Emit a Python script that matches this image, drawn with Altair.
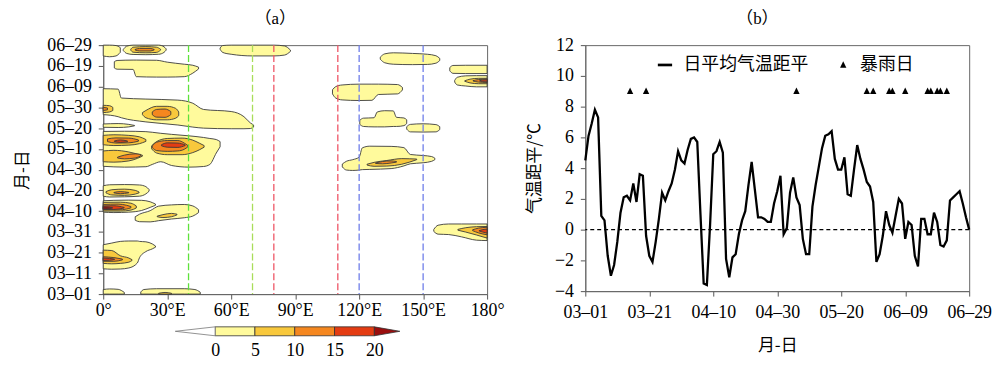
import json
import altair as alt
import pandas as pd

# ---------------- panel (a): Hovmoller contour data ----------------
A_LON_TICKS = [0, 30, 60, 90, 120, 150, 180]
A_LON_LABELS = ["0°", "30°E", "60°E", "90°E", "120°E", "150°E", "180°"]
A_DAY_TICKS = list(range(0, 121, 10))
A_DAY_LABELS = ["03–01", "03–11", "03–21", "03–31", "04–10", "04–20", "04–30",
                "05–10", "05–20", "05–30", "06–09", "06–19", "06–29"]

# contour regions: blob -> [(lon, day_low, day_high), ...]
LEVEL_0 = {
    "A": [(9.4, 117.4, 117.9), (11, 116.0, 119.5), (14, 115.5, 120), (20, 115.4, 120), (26, 115.6, 120), (28.5, 116.5, 119.2), (29.5, 117.6, 118.2)],
    "B": [(0, 114.8, 120), (3, 114.4, 120), (6, 114.8, 119.8), (8, 116.5, 118.8)],
    "C": [(5.2, 109.0, 112.0), (6.5, 108.4, 112.6), (14, 108.3, 112.8), (15.5, 104.8, 112.8), (25, 104.6, 112.7), (30, 104.6, 111.8), (38, 104.8, 110.8), (42, 106.5, 110.3), (44.7, 108.5, 109.4)],
    "D": [(54.8, 118.0, 118.6), (56, 116.5, 119.8), (60, 115.6, 120), (70, 114.8, 120), (80, 114.8, 120), (85, 115.2, 119.6), (87.8, 117.0, 117.6)],
    "E": [(129.9, 113.2, 114.2), (132, 111.5, 115.8), (136, 110.8, 116.3), (145, 110.6, 116.0), (152, 110.7, 115.6), (156, 111.3, 114.9), (157.8, 112.6, 113.6)],
    "F": [(162.5, 107.6, 109.2), (164, 106.4, 110.2), (170, 106.3, 110.3), (180, 106.3, 110.3)],
    "F2": [(164.8, 102.2, 103.0), (166, 100.8, 104.5), (170, 100.3, 105.2), (175, 99.9, 105.3), (180, 99.9, 105.3)],
    "G": [(107.5, 96.5, 98.5), (109, 94.5, 100.0), (112, 93.6, 100.8), (120, 93.3, 101.2), (126, 93.4, 101.2), (129, 96.2, 101.2), (138, 96.5, 101.0), (140.3, 98.4, 99.6)],
    "H": [(120.3, 81.8, 83.8), (122, 80.8, 84.8), (127, 80.6, 85.0), (128.5, 80.6, 87.8), (132, 80.6, 88.4), (136, 80.8, 88.3), (137.5, 80.8, 85.2), (141, 81.2, 84.9), (142.3, 82.2, 84.0)],
    "I": [(142.3, 79.5, 80.7), (144, 78.2, 81.8), (150, 78.1, 82.1), (156, 78.2, 81.7), (157.8, 79.3, 80.7)],
    "J": [(112.1, 61.3, 62.7), (114, 59.8, 64.0), (117, 59.6, 64.8), (120, 59.8, 66.0), (121.5, 60.0, 70.5), (125, 60.1, 71.3), (135, 60.5, 71.2), (141, 61.8, 70.6), (144, 62.8, 67.3), (150, 63.3, 66.8), (154, 64.0, 66.3), (155.5, 64.8, 65.5)],
    "K": [(155, 30.2, 31.2), (157, 28.9, 33.2), (162, 28.7, 33.8), (168, 27.6, 33.8), (175, 26.0, 33.8), (180, 25.8, 33.8)],
    "L": [(0, 47.2, 52.2), (3, 46.8, 52.7), (10, 46.9, 52.8), (17, 47.2, 52.6), (20, 48.3, 51.8), (21.5, 49.6, 50.4)],
    "M": [(0, 39.5, 45.0), (5, 39.3, 45.2), (12, 39.5, 45.3), (18, 40.3, 45.2), (22, 41.8, 44.5), (24.5, 42.8, 43.4)],
    "N": [(15, 35.6, 37.3), (17, 34.9, 38.5), (22, 34.8, 40.2), (26, 35.4, 42.4), (32, 36.2, 43.0), (38, 36.8, 43.2), (42, 37.6, 42.5), (44.7, 39.3, 40.7)],
    "O": [(0, 12.2, 23.8), (4, 12.0, 24.6), (8, 12.1, 25.4), (12, 12.6, 25.6), (16, 15.0, 25.6), (17, 17.5, 25.4), (20, 20.5, 25.2), (23, 21.8, 24.2), (24.5, 22.6, 23.2)],
    "P1": [(0, 0, 2.2), (3, 0, 2.5), (7, 0, 2.3), (9.9, 0, 0.8)],
    "P2": [(17.6, 0, 1.0), (19, 0, 2.2), (25, 0, 2.6), (38, 0, 2.6), (43, 0, 2.2), (45.5, 0, 0.9)],
    "Q": [(0, 86.5, 99.0), (7, 85.5, 98.8), (8.5, 85.0, 94.5), (20, 83.0, 94.0), (35, 81.5, 93.5), (42, 80.5, 92.0), (47, 80.0, 89.0), (60, 79.7, 88.0), (66, 79.7, 85.5), (69, 79.8, 82.5), (70.5, 80.5, 81.5)],
    "S": [(0, 80.4, 82.0), (7, 80.3, 82.2), (12, 80.6, 81.8), (14.7, 81.1, 81.3)],
    "R": [(0, 61.6, 78.4), (10, 61.2, 78.5), (20, 61.4, 78.3), (23, 62.5, 78.0), (27, 63.8, 77.5), (32, 62.0, 77.0), (40, 61.2, 76.3), (47, 61.5, 75.5), (50, 62.5, 75.0), (53, 68.0, 74.5), (54.8, 71.0, 73.5)],
}
LEVEL_5 = {
    "A": [(12.9, 117.6, 118.0), (14, 116.6, 119.0), (20, 116.3, 119.3), (25, 116.5, 119.0), (26.9, 117.6, 118.0)],
    "F2": [(169.5, 102.6, 102.8), (172, 101.8, 103.6), (176, 101.4, 104.0), (180, 101.4, 104.0)],
    "J": [(123.7, 62.2, 62.6), (127, 61.6, 63.5), (133, 61.7, 64.4), (140, 62.6, 65.3), (147, 64.8, 65.1)],
    "K": [(166.3, 30.8, 31.2), (170, 29.9, 32.0), (175, 28.5, 32.5), (180, 27.0, 32.6)],
    "L": [(1.3, 48.8, 49.4), (4, 47.8, 50.3), (10, 47.6, 50.6), (15, 48.2, 50.0), (16.8, 48.8, 49.2)],
    "M": [(0, 40.0, 44.2), (8, 40.0, 44.3), (13, 40.5, 43.8), (15.5, 41.5, 42.5)],
    "N": [(25.3, 37.3, 37.6), (28, 36.9, 38.3), (32, 37.3, 38.9), (34.6, 38.2, 38.5)],
    "O": [(0, 14.8, 21.2), (4, 14.6, 21.0), (8, 14.8, 18.5), (12, 15.4, 17.4), (13.5, 16.2, 16.6)],
    "P2": [(26, 0, 0.4), (29, 0, 0.8), (32, 0, 0.4)],
    "Q1": [(0, 87.5, 91.0), (3, 87.8, 90.8), (4.5, 88.5, 90.0)],
    "Q2": [(18.4, 86.5, 87.5), (20, 85.0, 88.5), (25, 84.0, 90.5), (30, 84.0, 90.5), (34, 84.8, 89.5), (35.4, 86.0, 87.8)],
    "R1": [(0, 72.0, 76.5), (5, 71.6, 76.8), (12, 71.8, 76.5), (17, 72.5, 75.8), (20, 73.6, 74.5)],
    "R2": [(22.7, 70.0, 71.5), (25, 68.0, 73.5), (30, 67.2, 75.0), (37, 67.2, 75.2), (42, 68.2, 74.2), (45, 69.5, 72.8), (47.3, 70.8, 71.6)],
    "R3": [(0, 63.8, 69.0), (5, 63.6, 69.3), (12, 64.2, 68.5), (16, 65.4, 67.5), (18.4, 66.5, 66.9)],
}
LEVEL_10 = {
    "A": [(14.9, 117.7, 117.9), (17, 117.2, 118.4), (22, 117.2, 118.4), (23.9, 117.7, 117.9)],
    "F2": [(173.4, 102.7, 102.9), (176, 102.2, 103.4), (180, 102.0, 103.6)],
    "J": [(127.7, 63.0, 63.2), (131, 62.8, 63.9), (135, 63.2, 64.2), (137.5, 63.6, 63.9)],
    "K": [(173.2, 30.6, 31.0), (176, 29.5, 31.8), (180, 28.6, 32.2)],
    "L": [(5, 48.8, 49.0), (8, 48.4, 49.4), (12, 48.8, 49.0)],
    "M": [(0, 40.6, 43.2), (7, 40.6, 43.4), (11, 41.0, 42.8), (13, 41.6, 42.2)],
    "O": [(0, 15.8, 18.0), (5, 15.8, 17.6), (9, 16.5, 16.9)],
    "Q1": [(0, 88.5, 90.0), (2, 88.8, 89.7)],
    "Q2": [(23, 86.5, 87.8), (25, 85.3, 89.0), (29, 85.2, 89.2), (31.7, 86.5, 88.0)],
    "R1": [(2, 73.5, 74.8), (6, 72.8, 75.3), (12, 72.9, 75.2), (16.5, 73.7, 74.3)],
    "R2": [(23, 70.6, 71.4), (25, 69.2, 73.2), (30, 68.8, 74.0), (35, 69.0, 74.0), (38, 69.8, 72.8), (39.7, 71.0, 71.6)],
    "R3": [(6.7, 65.6, 66.0), (10, 65.2, 67.0), (15, 65.6, 67.6), (17.6, 66.6, 67.3)],
}
LEVEL_15 = {
    "F2": [(176.5, 102.7, 102.8), (178, 102.4, 103.2), (180, 102.3, 103.3)],
    "K": [(176.3, 30.4, 30.6), (178, 29.9, 31.1), (180, 29.4, 31.3)],
    "M": [(0, 40.8, 42.5), (5, 40.8, 42.6), (9.8, 41.5, 41.8)],
    "O": [(0, 16.2, 17.4), (3, 16.3, 17.2), (5.3, 16.7, 16.9)],
    "R1": [(5.2, 73.6, 73.8), (8, 73.1, 74.3), (11.4, 73.5, 73.8)],
    "R2": [(27.3, 71.5, 72.0), (30, 70.8, 72.9), (35, 70.7, 72.8), (38.4, 71.6, 71.9)],
}
LEVEL_20 = {
    "M": [(0, 41.0, 42.1), (3, 41.2, 41.9), (4.4, 41.5, 41.6)],
}
LEVELS = [LEVEL_0, LEVEL_5, LEVEL_10, LEVEL_15, LEVEL_20]
LEVEL_COLORS = ["#FFFA9C", "#F8C83C", "#F5871F", "#E43C12", "#9A0E0E"]

REF_LONS = [40, 70, 80, 110, 120, 150]
REF_COLORS = ["#5EE23A", "#A9DD5A", "#EE5566", "#EE5566", "#6E7EEA", "#6E7EEA"]

# colour bar
CB_LOW = [0, 5, 10, 15]
CB_HIGH = [5, 10, 15, 20]
CB_TICKS = [0, 5, 10, 15, 20]
CB_LEFT_TIP = -5
CB_RIGHT_TIP = 23.2

# ---------------- panel (b): daily temperature anomaly ----------------
B_DAYS = list(range(121))
T_ANOM = [4.5, 6.1, 6.9, 7.8, 7.3, 0.9, 0.6, -1.7, -3.0, -2.3,
          -0.8, 1.1, 2.1, 2.2, 1.9, 3.0, 1.8, 3.6, 3.5, -0.4,
          -1.7, -2.1, -0.8, 0.7, 2.4, 1.9, 2.5, 3.0, 3.9, 5.1,
          4.5, 4.3, 5.2, 5.9, 6.0, 5.7, 1.0, -3.5, -3.6, 0.3,
          4.9, 5.1, 5.7, 5.0, -1.9, -3.1, -1.8, -1.6, -0.3, 0.6,
          1.2, 2.9, 4.4, 2.6, 0.8, 0.8, 0.7, 0.5, 0.5, 1.7,
          2.5, 3.5, -0.3, 0.1, 2.4, 3.4, 2.1, 1.6, -0.6, -1.6,
          -1.6, 1.5, 2.9, 4.1, 5.3, 6.1, 6.2, 6.4, 4.6, 3.9,
          3.9, 4.7, 2.3, 2.2, 3.9, 5.5, 4.6, 3.9, 3.1, 2.8,
          1.8, -2.1, -1.6, -0.4, 1.2, 0.3, -0.2, 0.9, 2.0, 1.7,
          -0.6, 0.5, 0.3, -1.7, -2.4, 0.7, 0.7, -0.3, -0.3, 1.1,
          0.5, -1.0, -1.1, -0.7, 1.9, 2.1, 2.3, 2.5, 1.7, 0.8,
          0.0]
STORM_DAYS = [14, 19, 66, 88, 90, 95, 96, 100, 107, 108, 110, 111, 113]
STORM_LEVEL = 9
B_DAY_TICKS = [0, 20, 40, 60, 80, 100, 120]
B_DAY_LABELS = ["03–01", "03–21", "04–10", "04–30", "05–20", "06–09", "06–29"]
B_Y_TICKS = [-4, -2, 0, 2, 4, 6, 8, 10, 12]
LEG_LABELS = ["日平均气温距平", "暴雨日"]
# legend / point symbols: a short thick bar for the line, a small triangle for rain days
LEG_SHAPES = ["M-1.45,-0.22L0.9,-0.22L0.9,0.22L-1.45,0.22Z", "M0,-0.6L0.52,0.45L-0.52,0.45Z"]

SERIF = "Liberation Serif"
CJK = "Noto Sans CJK SC"

# ---------------- build panel (a) ----------------
def region_frame(level):
    rows = []
    for name, pts in level.items():
        for lon, lo, hi in pts:
            rows.append({"blob": name, "lon": lon, "lo": lo, "hi": hi})
    return pd.DataFrame(rows)

xa = alt.Scale(domain=[0, 180], nice=False, zero=False)
ya = alt.Scale(domain=[0, 120], nice=False, zero=False)
lon_expr = json.dumps(A_LON_LABELS, ensure_ascii=False) + "[round(datum.value/30)]"
day_expr = json.dumps(A_DAY_LABELS, ensure_ascii=False) + "[round(datum.value/10)]"
x_axis_a = alt.Axis(values=A_LON_TICKS, labelExpr=lon_expr, grid=False, labelPadding=3,
                    labelFlush=False, labelOverlap=False)
y_axis_a = alt.Axis(values=A_DAY_TICKS, labelExpr=day_expr, grid=False, labelPadding=7,
                    titlePadding=15, labelFlush=False, labelOverlap=False)

a_layers = []
for level, color in zip(LEVELS, LEVEL_COLORS):
    a_layers.append(
        alt.Chart(region_frame(level)).mark_area(
            fill=color, stroke="#3a3a3a", strokeWidth=0.9, interpolate="monotone"
        ).encode(
            x=alt.X("lon:Q", scale=xa, axis=x_axis_a, title=None),
            y=alt.Y("lo:Q", scale=ya, axis=y_axis_a, title="月-日"),
            y2="hi:Q",
            detail="blob:N",
        )
    )
rules = alt.Chart(pd.DataFrame({"lon": REF_LONS, "c": REF_COLORS})).mark_rule(
    strokeDash=[7, 3], strokeWidth=1.3
).encode(
    x=alt.X("lon:Q", scale=xa, axis=x_axis_a, title=None),
    color=alt.Color("c:N", scale=None),
)
panel_a = alt.layer(*a_layers, rules).properties(
    width=387, height=251,
    title=alt.TitleParams("（a）", font=f"{SERIF}, {CJK}", fontSize=17, fontWeight="normal",
                          offset=8, dx=-20),
)

# colour bar
cb_scale = alt.Scale(domain=[-14.05, 34.16], nice=False, zero=False)
cb_y = alt.Scale(domain=[0, 1], nice=False, zero=False)
cb_df = pd.DataFrame({"lo": CB_LOW, "hi": CB_HIGH, "c": LEVEL_COLORS[:4], "b": 0, "t": 1})
cb_rects = alt.Chart(cb_df).mark_rect(stroke="#333333", strokeWidth=0.8).encode(
    x=alt.X("lo:Q", scale=cb_scale,
            axis=alt.Axis(values=CB_TICKS, ticks=False, domain=False, grid=False, labelPadding=6,
                          labelFontSize=18, labelFlush=False, labelOverlap=False),
            title=None),
    x2="hi:Q",
    y=alt.Y("b:Q", scale=cb_y, axis=None),
    y2="t:Q",
    color=alt.Color("c:N", scale=None),
)
tri_left = pd.DataFrame({"x": [CB_LEFT_TIP, 0], "lo": [0.5, 0], "hi": [0.5, 1]})
tri_right = pd.DataFrame({"x": [20, CB_RIGHT_TIP], "lo": [0, 0.5], "hi": [1, 0.5]})
cb_left = alt.Chart(tri_left).mark_area(fill="white", stroke="#777777", strokeWidth=0.8).encode(
    x=alt.X("x:Q", scale=cb_scale, title=None), y=alt.Y("lo:Q", scale=cb_y, axis=None), y2="hi:Q")
cb_right = alt.Chart(tri_right).mark_area(fill=LEVEL_COLORS[4], stroke="#333333", strokeWidth=0.8).encode(
    x=alt.X("x:Q", scale=cb_scale, title=None), y=alt.Y("lo:Q", scale=cb_y, axis=None), y2="hi:Q")
colorbar = alt.layer(cb_rects, cb_left, cb_right).properties(
    width=387, height=9, view=alt.ViewBackground(strokeOpacity=0)
)

# ---------------- build panel (b) ----------------
xb = alt.Scale(domain=[0, 120], nice=False, zero=False)
yb = alt.Scale(domain=[-4, 12], nice=False, zero=False)
bday_expr = json.dumps(B_DAY_LABELS, ensure_ascii=False) + "[round(datum.value/20)]"
x_axis_b = alt.Axis(values=B_DAY_TICKS, labelExpr=bday_expr, grid=False, labelPadding=8, titlePadding=16,
                    labelFlush=False, labelOverlap=False)
y_axis_b = alt.Axis(values=B_Y_TICKS, grid=False, labelPadding=7, titlePadding=11,
                    labelFlush=False, labelOverlap=False)

line_df = pd.DataFrame({"day": B_DAYS, "t": T_ANOM})
line = alt.Chart(line_df).mark_line(color="black", strokeWidth=2.3).encode(
    x=alt.X("day:Q", scale=xb, axis=x_axis_b, title="月-日"),
    y=alt.Y("t:Q", scale=yb, axis=y_axis_b, title="气温距平/℃"),
)
zero = alt.Chart(pd.DataFrame({"v": [0]})).mark_rule(color="black", strokeDash=[4, 3], strokeWidth=1.4).encode(
    y=alt.Y("v:Q", scale=yb, axis=y_axis_b, title="气温距平/℃"),
)
storm_df = pd.DataFrame({"day": STORM_DAYS, "y": [STORM_LEVEL] * len(STORM_DAYS), "kind": LEG_LABELS[1]})
storms = alt.Chart(storm_df).mark_point(
    filled=True, fill="black", strokeWidth=0, size=150, opacity=1
).encode(
    x=alt.X("day:Q", scale=xb, axis=x_axis_b, title="月-日"),
    y=alt.Y("y:Q", scale=yb, axis=y_axis_b, title="气温距平/℃"),
    shape=alt.Shape(
        "kind:N",
        scale=alt.Scale(domain=LEG_LABELS, range=LEG_SHAPES),
        legend=alt.Legend(
            title=None, orient="none", legendX=73, legendY=11, direction="horizontal",
            labelFont=CJK, labelFontSize=18, labelColor="black", symbolSize=150,
            symbolFillColor="black", symbolStrokeWidth=0,
            labelOffset=8, columnPadding=26, padding=0,
        ),
    ),
)
panel_b = alt.layer(line, zero, storms).properties(
    width=387, height=248,
    title=alt.TitleParams("（b）", font=f"{SERIF}, {CJK}", fontSize=17, fontWeight="normal",
                          offset=8, dx=-20),
)

chart = alt.hconcat(
    alt.vconcat(panel_a, colorbar, spacing=4),
    panel_b,
    spacing=20,
).resolve_legend(shape="independent").properties(
    padding={"left": 5, "top": 0, "right": 0, "bottom": 0}
).configure_axis(
    labelFont=SERIF, labelFontSize=18, labelColor="black",
    titleFont=CJK, titleFontSize=17, titleFontWeight="normal", titleColor="black",
    tickColor="#555555", domainColor="#666666", tickSize=5,
).configure_view(stroke="#666666").configure_title(color="black")

chart.save("out.html", embed_options={"renderer": "svg", "actions": False})
